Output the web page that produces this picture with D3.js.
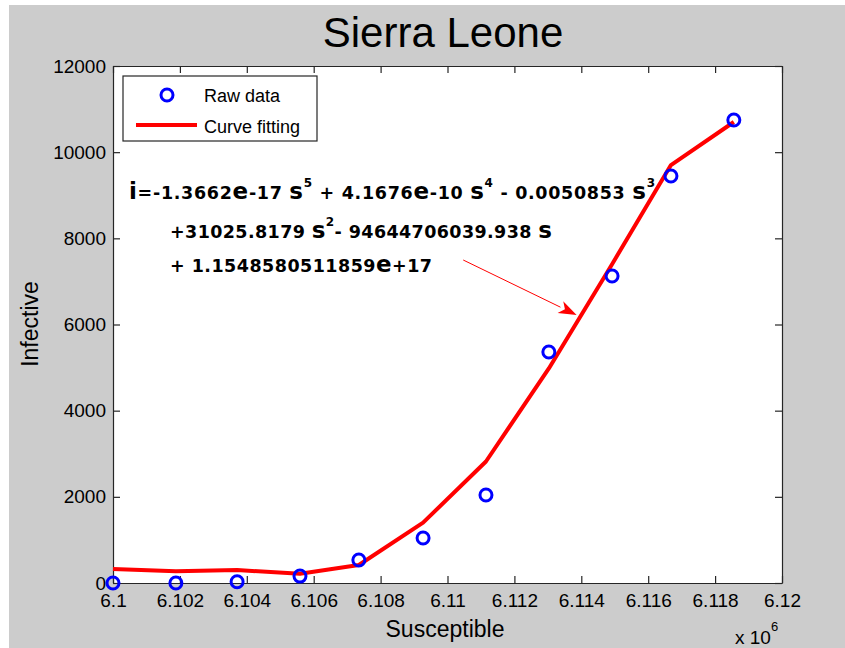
<!DOCTYPE html>
<html>
<head>
<meta charset="utf-8">
<script src="https://cdn.jsdelivr.net/npm/d3@7/dist/d3.min.js"></script>
<style>
  html, body { margin: 0; padding: 0; background: #fff; }
  svg { display: block; }
  text { font-family: "Liberation Sans", Arial, sans-serif; fill: #000; }
  text.eq { font-family: "DejaVu Sans", Verdana, sans-serif; font-weight: bold; }
</style>
</head>
<body>
<svg id="chart" width="845" height="648"></svg>
<script>
// data (susceptible in units of 10^6)
const susceptible = [6.1000, 6.10188, 6.10371, 6.10559, 6.10735, 6.10927, 6.11115, 6.11303, 6.11492, 6.11668, 6.11856];
const infective   = [0, 0, 30, 160, 534, 1044, 2043, 5362, 7126, 9447, 10747];
const fitted      = [325, 272, 300, 215, 418, 1400, 2820, 4980, 7400, 9700, 10700];

const xTicks = [6.1, 6.102, 6.104, 6.106, 6.108, 6.11, 6.112, 6.114, 6.116, 6.118, 6.12];
const xTickLabels = ["6.1", "6.102", "6.104", "6.106", "6.108", "6.11", "6.112", "6.114", "6.116", "6.118", "6.12"];
const yTicks = [0, 2000, 4000, 6000, 8000, 10000, 12000];
const yTickLabels = ["0", "2000", "4000", "6000", "8000", "10000", "12000"];

const legendLabels = ["Raw data", "Curve fitting"];

// arrow annotation, data coords [x, y]
const arrowFrom = [6.11047, 7497];
const arrowTo = [6.11386, 6220];

// Set up the display area
const plot = { left: 113, right: 782, top: 66, bottom: 583 };
const svg = d3.select("#chart");

svg.append("rect")
  .attr("x", 9).attr("y", 5)
  .attr("width", 845 - 9).attr("height", 648 - 5)
  .attr("fill", "#cccccc");

svg.append("rect")
  .attr("x", plot.left).attr("y", plot.top)
  .attr("width", plot.right - plot.left).attr("height", plot.bottom - plot.top)
  .attr("fill", "#fff");

const x = d3.scaleLinear().domain([6.1, 6.12]).range([plot.left, plot.right]);
const y = d3.scaleLinear().domain([0, 12000]).range([plot.bottom, plot.top]);

// axes, ticks point inwards on all four sides
const tickLen = 7;
const axisStyle = (g) => {
  g.select(".domain").attr("stroke", "#262626").attr("stroke-width", 1.2);
  g.selectAll(".tick line").attr("stroke", "#262626").attr("stroke-width", 1.2);
  g.selectAll("text").attr("fill", "#1a1a2e").attr("font-size", 19);
};

svg.append("g")
  .attr("transform", `translate(0,${plot.bottom})`)
  .call(d3.axisBottom(x).tickValues(xTicks).tickSize(-tickLen).tickSizeOuter(0).tickPadding(11)
    .tickFormat((d, i) => xTickLabels[i]))
  .call(axisStyle);

svg.append("g")
  .attr("transform", `translate(0,${plot.top})`)
  .call(d3.axisTop(x).tickValues(xTicks).tickSize(-tickLen).tickSizeOuter(0).tickFormat(""))
  .call(axisStyle);

svg.append("g")
  .attr("transform", `translate(${plot.left},0)`)
  .call(d3.axisLeft(y).tickValues(yTicks).tickSize(-tickLen).tickSizeOuter(0).tickPadding(7)
    .tickFormat((d, i) => yTickLabels[i]))
  .call(axisStyle);

svg.append("g")
  .attr("transform", `translate(${plot.right},0)`)
  .call(d3.axisRight(y).tickValues(yTicks).tickSize(-tickLen).tickSizeOuter(0).tickFormat(""))
  .call(axisStyle);

// fitted curve
const line = d3.line()
  .x((d, i) => x(susceptible[i]))
  .y(d => y(d));

svg.append("path")
  .datum(fitted)
  .attr("d", line)
  .attr("fill", "none")
  .attr("stroke", "#ff0000")
  .attr("stroke-width", 4)
  .attr("stroke-linejoin", "round");

// raw data markers
svg.append("g").selectAll("circle")
  .data(infective)
  .join("circle")
  .attr("cx", (d, i) => x(susceptible[i]))
  .attr("cy", d => y(d))
  .attr("r", 6)
  .attr("fill", "none")
  .attr("stroke", "#0000ff")
  .attr("stroke-width", 3);

// arrow
const ax0 = x(arrowFrom[0]), ay0 = y(arrowFrom[1]);
const ax1 = x(arrowTo[0]), ay1 = y(arrowTo[1]);
const ang = Math.atan2(ay1 - ay0, ax1 - ax0);
const headLen = 18, headHalf = 6.5;
const bx = ax1 - headLen * Math.cos(ang), by = ay1 - headLen * Math.sin(ang);

svg.append("line")
  .attr("x1", ax0).attr("y1", ay0).attr("x2", bx).attr("y2", by)
  .attr("stroke", "#ff0000").attr("stroke-width", 1);

svg.append("path")
  .attr("d", `M${ax1},${ay1}L${bx - headHalf * Math.sin(ang)},${by + headHalf * Math.cos(ang)}L${bx + 5 * Math.cos(ang)},${by + 5 * Math.sin(ang)}L${bx + headHalf * Math.sin(ang)},${by - headHalf * Math.cos(ang)}Z`)
  .attr("fill", "#ff0000");

// equation text
const eqLines = [
  { x: 129, y: 199, w: 526, parts: [["i", "big"], ["=-1.3662", "n"], ["e", "big"], ["-17 ", "n"], ["s", "big"], ["5", "sup"],
    [" + 4.1676", "n"], ["e", "big"], ["-10 ", "n"], ["s", "big"], ["4", "sup"], [" - 0.0050853 ", "n"], ["s", "big"], ["3", "sup"]] },
  { x: 170, y: 238, w: 382, parts: [["+31025.8179 ", "n"], ["s", "big"], ["2", "sup"], ["- 94644706039.938 ", "n"], ["s", "big"]] },
  { x: 170, y: 272, w: 262, parts: [["+ 1.1548580511859", "n"], ["e", "big"], ["+17", "n"]] }
];

eqLines.forEach(l => {
  const t = svg.append("text")
    .attr("class", "eq")
    .attr("x", l.x).attr("y", l.y);
  let shift = 0;
  l.parts.forEach(([s, kind]) => {
    const sp = t.append("tspan").text(s).style("white-space", "pre");
    const target = kind === "sup" ? -12 : 0;
    if (target !== shift) { sp.attr("dy", target - shift); shift = target; }
    sp.attr("font-size", kind === "big" ? 23 : kind === "sup" ? 12 : 17.5);
  });
  // fit each line to the width it has in the picture
  t.attr("textLength", l.w).attr("lengthAdjust", "spacing");
});

// legend
const lg = svg.append("g");
lg.append("rect")
  .attr("x", 123).attr("y", 76).attr("width", 194).attr("height", 65)
  .attr("fill", "#fff").attr("stroke", "#262626").attr("stroke-width", 1.2);
lg.append("circle")
  .attr("cx", 167).attr("cy", 95).attr("r", 6)
  .attr("fill", "none").attr("stroke", "#0000ff").attr("stroke-width", 3);
lg.append("line")
  .attr("x1", 136).attr("x2", 197).attr("y1", 125).attr("y2", 125)
  .attr("stroke", "#ff0000").attr("stroke-width", 4);
lg.selectAll("text.lab")
  .data(legendLabels)
  .join("text")
  .attr("class", "lab")
  .attr("x", 204)
  .attr("y", (d, i) => 102 + i * 31)
  .attr("font-size", 18)
  .attr("fill", "#1a1a2e")
  .text(d => d);

// title and axis labels
svg.append("text")
  .attr("x", 443).attr("y", 47)
  .attr("text-anchor", "middle")
  .attr("font-size", 42)
  .text("Sierra Leone");

svg.append("text")
  .attr("x", 445).attr("y", 637)
  .attr("text-anchor", "middle")
  .attr("font-size", 23)
  .attr("fill", "#1a1a2e")
  .text("Susceptible");

svg.append("text")
  .attr("transform", "translate(38,324) rotate(-90)")
  .attr("text-anchor", "middle")
  .attr("font-size", 23)
  .attr("fill", "#1a1a2e")
  .text("Infective");

const ex = svg.append("text")
  .attr("x", 735).attr("y", 644)
  .attr("font-size", 19)
  .attr("fill", "#1a1a2e");
ex.append("tspan").text("x 10");
ex.append("tspan").attr("dy", -13).attr("font-size", 13).text("6");
</script>
</body>
</html>
